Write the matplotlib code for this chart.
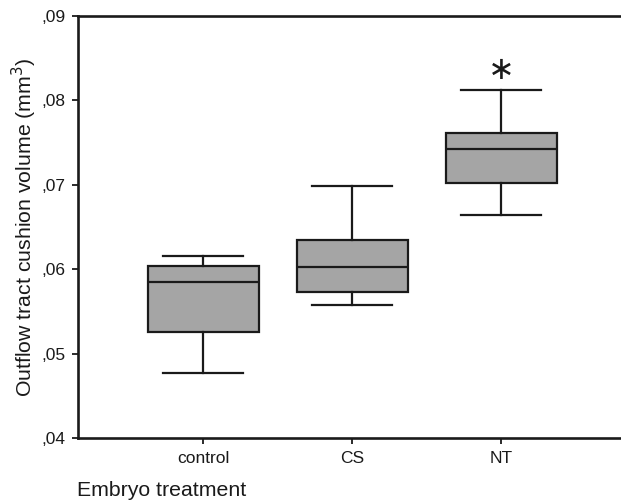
import matplotlib
matplotlib.use("Agg")
import matplotlib.pyplot as plt

plt.rcParams["font.family"] = ["Liberation Sans", "DejaVu Sans"]

# Box summary values (mm^3)
groups = ["control", "CS", "NT"]
whisker_low = [0.0477, 0.0558, 0.0664]
q1 = [0.0526, 0.0573, 0.0702]
median = [0.0585, 0.0603, 0.0742]
q3 = [0.0604, 0.0635, 0.0761]
whisker_high = [0.0616, 0.0699, 0.0812]
y_ticks = [0.04, 0.05, 0.06, 0.07, 0.08, 0.09]
y_tick_labels = [",04", ",05", ",06", ",07", ",08", ",09"]
star_group = 3
star_value = 0.0835

fig = plt.figure(figsize=(6.21, 5.01), dpi=100)
ax = fig.add_axes([0.1256, 0.1257, 0.8744, 0.8423])

stats = [
    dict(label=g, whislo=lo, q1=a, med=m, q3=b, whishi=hi, fliers=[])
    for g, lo, a, m, b, hi in zip(groups, whisker_low, q1, median, q3, whisker_high)
]
ax.bxp(
    stats,
    positions=[1, 2, 3],
    widths=0.745,
    patch_artist=True,
    showfliers=False,
    boxprops=dict(facecolor="#a5a5a5", edgecolor="#1a1a1a", linewidth=1.6),
    medianprops=dict(color="#1a1a1a", linewidth=1.6),
    whiskerprops=dict(color="#1a1a1a", linewidth=1.6),
    capprops=dict(color="#1a1a1a", linewidth=1.6),
    capwidths=0.54,
)

# significance mark above NT
ax.text(star_group, star_value, "\u2217", ha="center", va="center",
        fontsize=23, color="#1a1a1a", family=["DejaVu Sans"])

ax.set_xlim(0.161, 3.805)
ax.set_ylim(0.04, 0.09)
ax.set_yticks(y_ticks)
ax.set_yticklabels(y_tick_labels)
ax.set_xticks([1, 2, 3])
ax.set_xticklabels(groups)
ax.tick_params(axis="both", direction="out", length=4, width=1.3,
               labelsize=12.5, colors="#1a1a1a", pad=5)

for side in ["left", "top", "bottom"]:
    ax.spines[side].set_linewidth(1.9)
    ax.spines[side].set_color("#1a1a1a")
ax.spines["right"].set_visible(False)

ax.set_ylabel("Outflow tract cushion volume (mm$^3$)", fontsize=15.3,
              color="#1a1a1a", labelpad=2)
fig.text(0.124, 0.002, "Embryo treatment", fontsize=15.3, color="#1a1a1a",
         ha="left", va="bottom")

fig.savefig("out.png", dpi=100)
